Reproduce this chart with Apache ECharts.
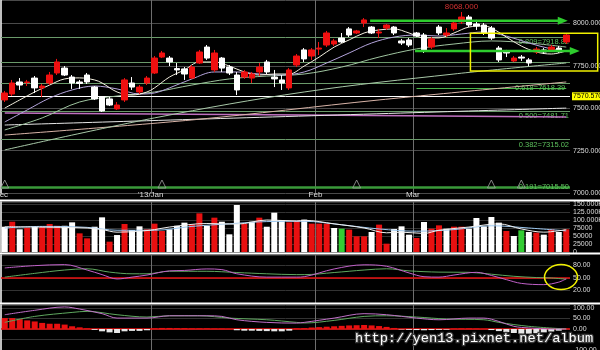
<!DOCTYPE html>
<html>
<head>
<meta charset="utf-8">
<title>chart</title>
<script src="https://cdn.jsdelivr.net/npm/echarts@6.0.0/dist/echarts.min.js"></script>
<style>
html,body{margin:0;padding:0;background:#000;overflow:hidden;}
#c{width:600px;height:350px;}
</style>
</head>
<body>
<div id="c"></div>
<script>
// ---------- DATA ----------
// candles: [open, close, low, high]
const ohlc = [
[7549,7590,7537,7602],[7584,7649,7572,7667],[7655,7637,7608,7678],[7652,7655,7631,7667],[7678,7620,7590,7690],
[7620,7631,7566,7643],[7649,7696,7637,7714],[7708,7773,7696,7791],[7737,7696,7690,7749],[7684,7649,7614,7696],
[7655,7646,7614,7667],[7696,7655,7643,7708],[7625,7555,7549,7631],[7566,7484,7478,7572],[7555,7519,7513,7566],
[7496,7519,7490,7537],[7549,7667,7537,7678],[7649,7625,7608,7684],[7596,7625,7584,7637],[7649,7678,7637,7690],
[7708,7796,7702,7808],[7802,7826,7796,7838],[7796,7773,7749,7808],[7734,7726,7696,7767],[7732,7702,7667,7743],
[7678,7743,7673,7755],[7767,7832,7761,7844],[7861,7796,7785,7873],[7726,7826,7714,7844],[7796,7737,7714,7802],
[7743,7708,7696,7755],[7696,7608,7578,7714],[7684,7714,7673,7726],[7678,7702,7649,7714],[7714,7743,7690,7767],
[7773,7714,7702,7785],[7684,7673,7625,7726],[7667,7649,7608,7696],[7620,7726,7608,7737],[7755,7808,7743,7820],
[7844,7791,7773,7855],[7808,7844,7785,7855],[7849,7855,7814,7891],[7873,7944,7861,7956],[7879,7897,7867,7909],
[7914,7891,7885,7944],[7968,7932,7920,7979],[7944,7956,7938,7962],[8003,8021,7979,8032],[7979,7944,7938,7985],
[7944,7950,7914,7968],[7973,7991,7962,7997],[7979,7944,7932,7985],[7897,7885,7873,7909],[7903,7873,7861,7914],
[7944,7926,7920,7950],[7932,7844,7826,7944],[7861,7909,7850,7920],[7979,7944,7932,7991],[7932,7944,7920,7973],
[7968,8003,7956,8015],[8009,8038,7997,8068],[8038,7991,7979,8050],[7997,7985,7962,8021],[7991,7944,7932,8003],
[7973,7914,7903,7985],[7855,7785,7773,7867],[7832,7826,7802,7844],[7779,7796,7773,7808],[7802,7796,7779,7814],
[7785,7767,7749,7796],[7832,7849,7820,7861],[7844,7832,7820,7855],[7844,7861,7832,7873],[7855,7838,7826,7867],
[7891,7932,7879,7944]
];
const volumes = [
79000,94700,70900,76000,79000,78000,87500,82000,82000,92700,58300,42700,79000,108300,32300,53000,87500,68700,80200,70900,
88500,65600,70900,82000,91700,86500,120800,82000,107300,94700,55200,146900,87500,94700,107300,79000,122900,100000,92700,96900,
101200,88700,88700,88700,75000,72900,69800,49000,49000,62500,85500,26000,71900,80200,54200,43800,93800,72900,83300,72900,
79200,79200,72900,106300,80200,109400,91700,65600,50000,67700,62500,60400,54200,70800,62500,70800
];
// volume direction: 1 up, -1 down, 0 unchanged
const volDir = [
-1,1,-1,1,-1,1,1,1,-1,-1,1,1,-1,-1,1,-1,1,-1,-1,1,1,1,-1,-1,-1,1,1,-1,1,-1,-1,-1,1,-1,1,-1,-1,-1,1,1,
-1,1,1,1,-1,0,1,1,1,-1,1,1,-1,-1,-1,1,-1,1,1,-1,1,1,-1,-1,-1,-1,-1,1,-1,0,-1,1,-1,1,-1,1
];
// moving averages (index, value)
const ma5 = [[0,7501],[2,7549],[4,7596],[6,7637],[8,7673],[10,7679],[12,7667],[13,7649],[15,7596],[17,7578],[19,7596],[20,7620],[22,7684],[24,7726],[26,7773],[28,7773],[30,7749],[32,7714],[34,7696],[36,7702],[38,7702],[40,7749],[42,7802],[44,7861],[46,7903],[48,7944],[50,7962],[52,7968],[54,7944],[56,7915],[58,7915],[60,7944],[62,7979],[64,7985],[65,7974],[67,7920],[69,7867],[71,7832],[73,7820],[75,7838]];
const ma10 = [[0,7419],[3,7490],[6,7560],[9,7608],[12,7631],[15,7614],[18,7584],[20,7590],[22,7620],[25,7673],[28,7714],[31,7714],[34,7702],[37,7696],[40,7714],[43,7767],[46,7826],[49,7885],[52,7920],[55,7932],[58,7926],[61,7938],[64,7950],[67,7926],[70,7885],[73,7850],[75,7838]];
const ma20 = [[0,7372],[5,7443],[10,7537],[15,7572],[20,7596],[25,7637],[30,7673],[35,7690],[40,7702],[45,7743],[50,7802],[55,7850],[60,7879],[65,7897],[70,7885],[75,7861]];
const ma60 = [[0,7254],[20,7443],[40,7596],[60,7702],[75,7767]];
const ma120 = [[0,7342],[25,7431],[50,7549],[75,7655]];
const maLongA = [[0,7401],[75,7501]];
const maLongB = [[0,7472],[40,7460],[75,7448]];
// volume averages
const volMa1 = [[0,79000],[4,78000],[11,75000],[13,70000],[15,62000],[18,65000],[20,70000],[22,78000],[27,89000],[31,87000],[35,100000],[39,97000],[40,99000],[44,88000],[48,75000],[51,60000],[53,62000],[56,58000],[58,68000],[62,78000],[66,88000],[69,72000],[72,62000],[75,70000]];
const volMa2 = [[0,75000],[5,80000],[11,77000],[15,68000],[20,68000],[25,80000],[30,88000],[35,95000],[40,96000],[45,85000],[50,72000],[55,65000],[60,70000],[65,82000],[70,75000],[75,66000]];
// oscillator (upper small panel)
const oscK = [[0,74],[4,79.5],[8,82],[11,69],[13,58],[15,47.6],[17,52],[19,57],[22,67],[24,68],[27,71.6],[29,70],[31,60],[35,52],[39,52],[40,53],[44,71.6],[48,81.5],[51,78],[54,62],[56,53],[58,52],[60,57],[63,63.5],[65,56],[67,46],[69,37],[72,34],[74,40],[75,48]];
const oscD = [[0,52],[4,61],[8,69],[11,72],[14,64],[17,60],[19,60],[22,66],[27,66],[31,63],[35,60],[39,58],[40,58],[44,63],[48,69],[51,72],[54,67],[58,64],[62,63.5],[65,59],[68,54],[71,51],[73,50],[75,47]];
// MACD
const dif = [[0,68],[4,89],[8,105],[10,95],[13,73],[15,52],[19,52],[22,63],[27,63],[29,60],[31,44],[35,31.5],[39,28],[40,31.5],[44,52],[48,73],[51,68],[55,52],[58,44],[62,52],[64,52],[66,36],[68,12.7],[70,5],[73,0],[75,0]];
const dea = [[0,31.5],[4,60],[9,79],[11,84],[15,68],[19,57],[22,63],[26,63],[30,52],[35,44],[39,31.5],[40,28.6],[44,41],[48,60],[51,63],[55,57],[59,47.6],[64,44],[66,31.5],[70,12.7],[75,0]];
const macdHist = [52,52,47,41,36,29,25,25,21,13,8,3,-4,-11,-16,-19,-11,-9,-9,-6,3,5,5,4,4,3,3,3,2,2,1,-6,-8,-8,-9,-10,-11,-11,-8,3,
4,7,9,11,13,15,17,18,19,17,14,10,5,-2,-4,-5,-6,-5,-4,-3,2,3,3,2,1,-5,-10,-15,-19,-22,-22,-20,-16,-12,-8,2];
// levels / labels
const fibLevels = [7918.8, 7618.4, 7481.7, 7315.0, 7036];
const fibLabels = ['0.809=7918.82', '0.618=7618.39', '0.500=7481.71', '0.382=7315.02', '0.191=7015.50'];
const extraLevels = [7773, 7649];
const keyLevel = 7570.57;
const highLabel = {idx: 61, value: 8068, text: '8068.000'};
const triIdx = [0, 21, 47, 65, 69];
const triLevel = 7053;
const monthStarts = [0, 20, 42, 55];
const monthNames = ['Dec', "'13/Jan", 'Feb', 'Mar'];
const monthLines = [20, 42, 55];

// ---------- CHART ----------
const FONT = '"Liberation Sans", Arial, sans-serif';
const N = ohlc.length;
const categories = Array.from({length: N}, (_, i) => 'T' + (i + 1));
const chart = echarts.init(document.getElementById('c'));

const gridDefs = [[0, 193], [202, 50], [255, 48], [305, 45]];
const grid = gridDefs.map(([t, h]) => ({left: 1, width: 569, top: t, height: h, containLabel: false, outerBoundsMode: 'none'}));
const yMins = [7000, 0, -10, -100];

const labelBase = {color: '#dcdcdc', fontSize: 7, fontFamily: FONT, margin: 3};
const yBase = {position: 'right', axisLine: {show: true, lineStyle: {color: '#ffffff', width: 1.5}}, axisTick: {show: false},
  splitLine: {show: true, lineStyle: {color: '#333333', width: 1}}};

const xAxis = [];
for (let g = 0; g < 4; g++) xAxis.push({type: 'category', gridIndex: g, data: categories, boundaryGap: true, show: false});
for (let g = 0; g < 4; g++) xAxis.push({
  type: 'value', gridIndex: g, min: 0, max: N, interval: 1, show: g === 0, position: 'bottom',
  axisLine: {show: false}, axisTick: {show: false}, splitLine: {show: false},
  axisLabel: {show: g === 0, margin: -2, color: '#dcdcdc', fontSize: 8, fontFamily: FONT,
    formatter: v => { const k = monthStarts.indexOf(v); return k >= 0 ? monthNames[k] : ''; }}
});

const yAxis = [
  {...yBase, gridIndex: 0, min: 7000, max: 8138.6, interval: 250, splitLine: {show: true, lineStyle: {color: '#4a4a4a'}},
   axisLabel: {...labelBase, formatter: v => (Math.abs(v % 250) < 1e-6) ? v.toFixed(3) : ''}},
  {...yBase, gridIndex: 1, min: 0, max: 156250, interval: 25000,
   axisLabel: {...labelBase, formatter: v => (v % 25000 !== 0) ? '' : (v >= 100000 ? (v / 1000).toFixed(3) + 'K' : String(v))}},
  {...yBase, gridIndex: 2, min: -10, max: 105, interval: 30,
   axisLabel: {...labelBase, formatter: v => (v === 20 || v === 50 || v === 80) ? v.toFixed(2) : ''}},
  {...yBase, gridIndex: 3, min: -100, max: 114.3, interval: 50,
   axisLabel: {...labelBase, formatter: v => (Math.abs(v % 50) < 1e-6) ? v.toFixed(2) : ''}}
];

const lineS = (data, color, xi, yi, w, z) => ({type: 'line', xAxisIndex: xi, yAxisIndex: yi, data, showSymbol: false, symbol: 'none',
  smooth: 0.35, lineStyle: {color, width: w || 1}, z: z || 2, silent: true});

// main panel level lines
const mainMarks = [];
fibLevels.forEach((v, k) => {
  const partial = k === 1, thick = k === 4;
  const ls = {color: thick ? '#3a9a3a' : (partial ? '#49b849' : '#6a9a6a'), width: thick ? 2.5 : 1, type: 'solid'};
  const lbl = {show: true, formatter: fibLabels[k], position: (k === 1 || k === 4) ? 'insideEnd' : 'insideEndBottom', distance: 1,
    color: '#5cc05c', fontSize: 7.5, fontFamily: FONT};
  if (partial) mainMarks.push([{coord: [monthStarts[3], v], lineStyle: ls, label: lbl}, {coord: [N - 1, v]}]);
  else mainMarks.push({yAxis: v, lineStyle: ls, label: lbl});
});
extraLevels.forEach(v => mainMarks.push({yAxis: v, lineStyle: {color: '#6a9a6a', width: 1, type: 'solid'}, label: {show: false}}));
mainMarks.push({yAxis: keyLevel, lineStyle: {color: '#ffffff', width: 1, type: 'solid'},
  label: {show: true, position: 'end', distance: 2, formatter: keyLevel.toFixed(3), backgroundColor: '#ffff00', color: '#000',
    fontSize: 7, fontFamily: FONT, padding: [1, 1, 0, 1]}});

const monthLineSeries = [0, 1, 2, 3].map(g => ({
  type: 'custom', xAxisIndex: 4 + g, yAxisIndex: g, silent: true, z: 0,
  data: monthLines.map(v => [v, yMins[g]]),
  renderItem: (params, api) => {
    const cs = params.coordSys;
    const x = Math.round(api.coord([api.value(0), api.value(1)])[0]) + 0.5;
    return {type: 'line', shape: {x1: x, y1: cs.y, x2: x, y2: cs.y + cs.height}, style: {stroke: '#6e6e6e', lineWidth: 1}};
  }
}));

const volColor = d => d > 0 ? '#e81010' : (d < 0 ? '#ffffff' : '#33cc33');

const option = {
  backgroundColor: '#000',
  animation: false,
  grid, xAxis, yAxis,
  series: [
    ...monthLineSeries,
    {type: 'scatter', xAxisIndex: 0, yAxisIndex: 0, data: triIdx.map(i => [i, triLevel]), symbol: 'triangle', symbolSize: [8, 8],
     itemStyle: {color: 'rgba(0,0,0,0)', borderColor: '#a0a0a0', borderWidth: 1}, z: 3, silent: true,
     markLine: {silent: true, symbol: 'none', z: 1, animation: false, data: mainMarks}},
    lineS(maLongB, '#c070c0', 0, 0, 1.5),
    lineS(maLongA, '#e6e6e6', 0, 0, 1),
    lineS(ma120, '#d8b4a8', 0, 0, 1),
    lineS(ma60, '#a8c8a8', 0, 0, 1),
    lineS(ma20, '#9fc49f', 0, 0, 1),
    lineS(ma10, '#b4a4dc', 0, 0, 1),
    lineS(ma5, '#f4f0e0', 0, 0, 1),
    {type: 'candlestick', xAxisIndex: 0, yAxisIndex: 0, data: ohlc, barWidth: 6, z: 4, silent: true,
     itemStyle: {color: '#f01010', color0: '#ffffff', borderColor: '#f01010', borderColor0: '#ffffff', borderWidth: 1},
     markPoint: {silent: true, symbol: 'circle', symbolSize: 0, animation: false,
       data: [{coord: [highLabel.idx, highLabel.value], value: highLabel.value}],
       label: {show: true, position: 'top', distance: 1, formatter: highLabel.text, color: '#d03030', fontSize: 8, fontFamily: FONT}}},
    {type: 'bar', xAxisIndex: 1, yAxisIndex: 1, data: volumes, barWidth: 6, silent: true, z: 2,
     itemStyle: {color: p => volColor(volDir[p.dataIndex])}},
    lineS(volMa2, '#9cc8f0', 1, 1, 1, 3),
    lineS(volMa1, '#f0f0f0', 1, 1, 1, 3),
    {...lineS(oscD, '#5fa85f', 2, 2, 1),
     markLine: {silent: true, symbol: 'none', z: 1, data: [{yAxis: 50, lineStyle: {color: '#e81010', width: 1.5, type: 'solid'}, label: {show: false}}]}},
    lineS(oscK, '#c060c8', 2, 2, 1),
    {type: 'bar', xAxisIndex: 3, yAxisIndex: 3, data: macdHist, barWidth: 6, silent: true, z: 2,
     itemStyle: {color: p => p.value >= 0 ? '#e81010' : '#e8e8e8'},
     markLine: {silent: true, symbol: 'none', z: 1, data: [{yAxis: 0, lineStyle: {color: '#e81010', width: 1.5, type: 'solid'}, label: {show: false}}]}},
    lineS(dea, '#5fa85f', 3, 3, 1, 3),
    lineS(dif, '#c070c8', 3, 3, 1, 3)
  ]
};
chart.setOption(option);

// ---------- annotations positioned through the chart's own scales ----------
const P = (v, price, g) => chart.convertToPixel({xAxisIndex: 4 + g, yAxisIndex: g}, [v, price]);
const gfx = [];
[1, 2, 3].forEach(g => {
  const y = grid[g].top - 1.5;
  gfx.push({type: 'line', shape: {x1: 0, y1: y, x2: 600, y2: y}, style: {stroke: '#ffffff', lineWidth: 2}, z: 50});
});
const arrows = [{from: 49.3, to: 75.7, price: 8016}, {from: 55.3, to: 77.3, price: 7838}];
arrows.forEach(a => {
  const p0 = P(a.from, a.price, 0), p1 = P(a.to, a.price, 0);
  gfx.push({type: 'line', shape: {x1: p0[0], y1: p0[1], x2: p1[0] - 8, y2: p1[1]}, style: {stroke: '#2ecc2e', lineWidth: 2.5}, z: 60});
  gfx.push({type: 'polygon', shape: {points: [[p1[0], p1[1]], [p1[0] - 10, p1[1] - 4], [p1[0] - 10, p1[1] + 4]]}, style: {fill: '#2ecc2e'}, z: 60});
});
const r0 = P(62.7, 7942, 0), r1 = P(79.7, 7720, 0);
gfx.push({type: 'rect', shape: {x: r0[0], y: r0[1], width: r1[0] - r0[0], height: r1[1] - r0[1]},
  style: {stroke: '#f0f000', fill: 'none', lineWidth: 1.5}, z: 60});
const ec = P(74.8, 52, 2);
gfx.push({type: 'ellipse', shape: {cx: ec[0], cy: ec[1], rx: 16.5, ry: 12.5}, style: {stroke: '#f0f000', fill: 'none', lineWidth: 1.5}, z: 60});
gfx.push({type: 'text', x: 355, y: 338, z: 100,
  style: {text: 'http://yen13.pixnet.net/album', font: '13.7px "Liberation Mono", monospace', fill: '#ffffff',
    stroke: '#3a3a3a', lineWidth: 2.5, strokeFirst: true, textVerticalAlign: 'middle', verticalAlign: 'middle'}});
chart.setOption({graphic: {elements: gfx}});
</script>
</body>
</html>
